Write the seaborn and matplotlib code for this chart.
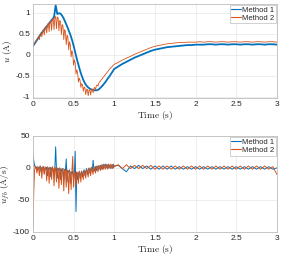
import numpy as np
import pandas as pd
import seaborn as sns
import matplotlib.pyplot as plt

# sample times (s)
t_02 = np.round(np.arange(0, 1.0001, 0.02), 2)
t_01 = np.round(np.arange(0, 1.0001, 0.01), 2)
t_tail = np.round(np.arange(1.05, 3.0001, 0.05), 2)

methods = ["Method 1", "Method 2"]
colors = ["#0072BD", "#D95319"]

# ---- u (A) ----
u_m1_head = [0.20, 0.26, 0.32, 0.38, 0.44, 0.50, 0.55, 0.60, 0.65, 0.70,
             0.75, 0.80, 0.85, 0.90, 1.18, 0.97, 0.99, 0.98, 0.93, 0.86,
             0.77, 0.68, 0.58, 0.48, 0.36, 0.22, 0.06, -0.10, -0.24, -0.38,
             -0.50, -0.60, -0.68, -0.74, -0.78, -0.81, -0.83, -0.84, -0.85, -0.85,
             -0.84, -0.81, -0.77, -0.73, -0.68, -0.63, -0.57, -0.52, -0.46, -0.40,
             -0.34]
u_m1_tail = [-0.28, -0.22, -0.17, -0.12, -0.07, -0.03, 0.01, 0.05, 0.09, 0.12,
             0.14, 0.16, 0.18, 0.19, 0.20, 0.21, 0.22, 0.23, 0.23, 0.24,
             0.24, 0.24, 0.25, 0.25, 0.24, 0.25, 0.25, 0.24, 0.25, 0.25,
             0.24, 0.25, 0.25, 0.24, 0.25, 0.25, 0.24, 0.25, 0.25, 0.24]
u_m2_head = [0.20, 0.23, 0.27, 0.30, 0.34, 0.37, 0.40, 0.43, 0.36, 0.49,
             0.52, 0.43, 0.57, 0.60, 0.47, 0.65, 0.67, 0.52, 0.72, 0.75,
             0.55, 0.79, 0.81, 0.58, 0.85, 0.87, 0.60, 0.90, 0.91, 0.62,
             0.90, 0.88, 0.57, 0.82, 0.79, 0.48, 0.72, 0.68, 0.36, 0.60,
             0.56, 0.24, 0.47, 0.42, 0.12, 0.31, 0.24, -0.05, 0.10, 0.03,
             -0.25, -0.12, -0.20, -0.46, -0.36, -0.43, -0.65, -0.56, -0.61, -0.78,
             -0.69, -0.72, -0.87, -0.77, -0.79, -0.95, -0.82, -0.83, -0.98, -0.84,
             -0.84, -0.96, -0.83, -0.82, -0.91, -0.80, -0.78, -0.84, -0.74, -0.72,
             -0.75, -0.68, -0.65, -0.63, -0.60, -0.58, -0.55, -0.53, -0.50, -0.48,
             -0.45, -0.43, -0.40, -0.38, -0.35, -0.33, -0.31, -0.29, -0.27, -0.25,
             -0.23]
u_m2_tail = [-0.18, -0.13, -0.08, -0.04, 0.01, 0.05, 0.09, 0.13, 0.17, 0.20,
             0.22, 0.24, 0.26, 0.27, 0.28, 0.29, 0.29, 0.30, 0.30, 0.30,
             0.31, 0.30, 0.31, 0.31, 0.30, 0.31, 0.31, 0.30, 0.31, 0.31,
             0.30, 0.31, 0.31, 0.30, 0.31, 0.31, 0.30, 0.31, 0.31, 0.30]

# ---- du_fb (A/s) ----
du_m1_head = [20, 12, 4, 1, -1, 2, -4, 1, -1, 3,
              -6, 1, -2, 2, -8, 0, -2, 1, -12, 0,
              -2, 1, -14, -1, 2, -3, -10, 0, 33, -3,
              -16, -1, -3, 0, -18, -2, -4, -1, -20, -3,
              -5, 14, -22, -4, -7, -3, -24, -6, -9, -5,
              -20, -8, 26, -68, -7, -18, -9, -6, -16, -8,
              -5, -14, -7, -3, -12, -5, -1, -10, -3, 0,
              -8, -2, 1, -7, 12, -1, -5, 2, -4, 1,
              3, -3, 2, 4, -2, 3, 5, -1, 4, 6,
              0, 3, 5, 0, 3, 5, -1, 3, 5, 0,
              3]
du_m1_tail = [4, -1, -6, 3, -1, 4, -1, 3, -2, 3,
              -2, 3, -2, 3, -2, 2, -2, 2, -2, 2,
              -2, 2, -2, 2, -2, 2, -2, 2, -2, 2,
              -2, 2, -2, 2, -2, 2, -2, 2, -2, 0]
du_m2_head = [-95, -40, -4, 3, 0, -8, 2, 0, -12, 3,
              -1, -16, 2, -1, -10, 2, -2, -20, 2, -2,
              -24, 1, -2, -18, 1, -2, -28, 1, -3, -22,
              0, -3, -32, 0, -4, -26, -1, -5, -36, -2,
              -6, -30, -3, -7, -40, -4, -8, -34, -5, 18,
              -30, -6, -10, -28, -6, -10, -24, -5, -9, -22,
              -5, -9, -18, -4, -7, -16, -2, -6, -14, -1,
              -4, -12, 1, -3, -10, 2, -1, -8, 3, 0,
              -6, 4, 1, -4, 5, 2, -3, 6, 2, -2,
              6, 2, -2, 6, 2, -1, 6, 2, -1, 6,
              2]
du_m2_tail = [5, -1, 5, -1, 4, -1, 4, -1, 4, -2,
              3, -2, 3, -2, 3, -2, 3, -2, 3, -2,
              3, -2, 3, -2, 3, -2, 3, -2, 3, -2,
              3, -2, 3, -2, 3, -2, 3, -2, 2, -10]


def series(t_head, head, tail, name):
    return pd.DataFrame({"time": np.r_[t_head, t_tail],
                         "value": head + tail,
                         "method": name})


top = pd.concat([series(t_02, u_m1_head, u_m1_tail, methods[0]),
                 series(t_01, u_m2_head, u_m2_tail, methods[1])])
bottom = pd.concat([series(t_01, du_m1_head, du_m1_tail, methods[0]),
                    series(t_01, du_m2_head, du_m2_tail, methods[1])])

sns.set_theme(style="whitegrid")
plt.rcParams["font.family"] = ["Liberation Sans", "DejaVu Sans"]
plt.rcParams["mathtext.fontset"] = "cm"
plt.rcParams["axes.unicode_minus"] = False

fig = plt.figure(figsize=(2.99, 2.56), dpi=100)
ax1 = fig.add_axes([0.110, 0.616, 0.816, 0.370])
ax2 = fig.add_axes([0.110, 0.094, 0.816, 0.375])

# top: blue drawn thicker, orange thinner on top
sns.lineplot(data=top[top.method == methods[0]], x="time", y="value",
             color=colors[0], estimator=None, sort=False, lw=1.3, ax=ax1)
sns.lineplot(data=top[top.method == methods[1]], x="time", y="value",
             color=colors[1], estimator=None, sort=False, lw=0.6, ax=ax1)
sns.lineplot(data=bottom, x="time", y="value", hue="method", palette=colors,
             estimator=None, sort=False, lw=0.7, legend=False, ax=ax2)

for ax, ylab in [(ax1, r"$u\ \mathrm{(A)}$"),
                 (ax2, r"$\dot{u}_{fb}\ \mathrm{(A/s)}$")]:
    ax.set_xlim(0, 3)
    ax.set_xticks([0, 0.5, 1, 1.5, 2, 2.5, 3])
    ax.set_xticklabels(["0", "0.5", "1", "1.5", "2", "2.5", "3"])
    ax.set_xlabel(r"$\mathrm{Time\ (s)}$", fontsize=6.8, labelpad=1)
    ax.set_ylabel(ylab, fontsize=6.8, labelpad=1)
    ax.tick_params(labelsize=6, colors="#262626", direction="in", length=2,
                   width=0.5, pad=2)
    ax.grid(True, color="#e8e8e8", lw=0.5)
    for s in ax.spines.values():
        s.set_visible(True)
        s.set_color("#bdbdbd")
        s.set_linewidth(0.6)
    leg = ax.legend(ax.lines[:2], methods, loc="upper right", fontsize=5.5,
                    handlelength=1.2, handletextpad=0.2, borderpad=0.2,
                    labelspacing=0.1, borderaxespad=0.15, fancybox=False,
                    framealpha=1)
    for h in leg.get_lines():
        h.set_linewidth(0.8)
    leg.get_frame().set_edgecolor("#bdbdbd")
    leg.get_frame().set_linewidth(0.5)

ax1.set_ylim(-1.04, 1.22)
ax1.set_yticks([-1, -0.5, 0, 0.5, 1])
ax1.set_yticklabels(["-1", "-0.5", "0", "0.5", "1"])
ax2.set_ylim(-100, 50)
ax2.set_yticks([-100, -50, 0, 50])

fig.savefig("out.png", dpi=100)
